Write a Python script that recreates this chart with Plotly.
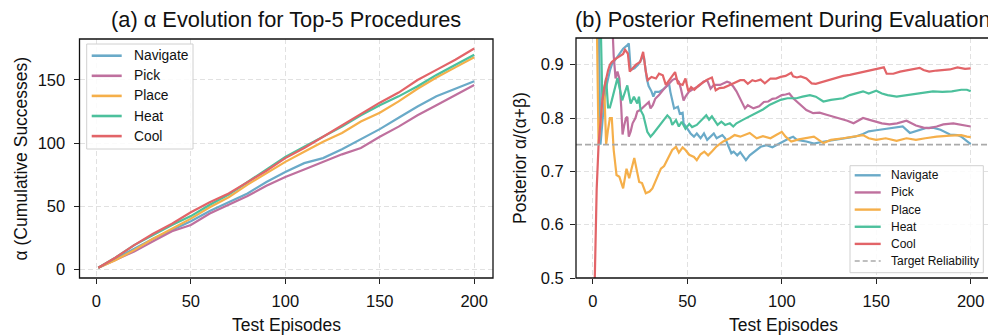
import plotly.graph_objects as go

# ---------------- data ----------------
names = ["Navigate", "Pick", "Place", "Heat", "Cool"]
colors = ["#6AAAC8", "#BF709E", "#F5AF4A", "#4CC09C", "#E26468"]

# panel (a): alpha (cumulative successes)
left_ep = [1, 10, 20, 30, 40, 50, 60, 70, 80, 90, 100, 110, 120, 130, 140, 150, 160, 170, 180, 190, 200]
nav_alpha = [1, 8, 16, 24, 31, 38, 46, 53, 60, 69, 77, 84, 88, 95, 103, 111, 120, 129, 137, 143, 149]
pick_alpha = [1, 7, 14, 22, 30, 35, 44, 51, 58, 66, 73, 79, 85, 91, 96, 105, 113, 122, 130, 138, 146]
place_alpha = [1, 7, 15, 24, 32, 40, 49, 57, 67, 76, 85, 93, 101, 108, 117, 124, 133, 143, 152, 160, 168]
heat_alpha = [1, 9, 19, 27, 35, 42, 51, 59, 69, 79, 89, 97, 105, 113, 122, 130, 137, 145, 154, 162, 170]
cool_alpha = [1, 9, 19, 28, 36, 45, 53, 60, 69, 78, 88, 96, 105, 114, 123, 132, 140, 150, 158, 166, 175]

# panel (b): posterior mean alpha/(alpha+beta)
nav_x = [1, 3, 4, 5, 6, 7, 8, 9, 10, 12, 14, 16, 18.4, 19, 20, 22, 24, 26, 27, 28.5, 29.5, 31, 32, 33, 35, 37,
         39.4, 40.3, 41, 42, 43, 45, 46, 47.5, 48, 50, 51.7, 53.5, 55, 57, 58.8, 60.5, 62, 64, 65.5, 68.5, 70,
         71.5, 73.3, 74.5, 76.4, 78, 79.6, 81, 83, 85, 88.8, 92, 95, 97, 99.4, 102, 104, 106, 108, 113, 117, 121,
         125, 129, 134, 138.7, 143, 146, 150, 155.5, 160, 164, 167.8, 172, 176, 180, 184, 189, 193, 195, 197, 200]
nav_post = [1.0, 1.0, 0.75, 0.8, 0.833, 0.857, 0.875, 0.889, 0.9, 0.91, 0.92, 0.93, 0.937, 0.94, 0.89, 0.893,
            0.9, 0.912, 0.915, 0.874, 0.86, 0.85, 0.84, 0.849, 0.849, 0.853, 0.861, 0.865, 0.849, 0.833, 0.818,
            0.821, 0.808, 0.81, 0.79, 0.78, 0.771, 0.765, 0.771, 0.762, 0.771, 0.759, 0.765, 0.771, 0.762, 0.768,
            0.762, 0.75, 0.734, 0.737, 0.73, 0.736, 0.727, 0.721, 0.73, 0.736, 0.746, 0.749, 0.745, 0.749, 0.754,
            0.759, 0.762, 0.765, 0.759, 0.756, 0.752, 0.755, 0.757, 0.759, 0.762, 0.765, 0.77, 0.775, 0.777, 0.78,
            0.782, 0.784, 0.772, 0.777, 0.781, 0.782, 0.778, 0.769, 0.768, 0.765, 0.76, 0.751]

pick_x = [1, 10, 11, 12, 13, 14, 15, 15.7, 16.5, 17.5, 18.2, 19, 20, 21, 22.5, 23.5, 25, 26.6, 28, 29.6, 30.5,
          31.7, 33, 35, 37, 38.5, 40, 42, 43.7, 45.5, 46.5, 48, 49, 50.8, 53.5, 56, 58.5, 60.5, 62.3, 64, 67.3,
          71, 72.5, 74.3, 76, 77, 78.7, 80.5, 82, 85, 88, 90.5, 92.8, 95, 97, 100, 102, 104, 106, 108.7, 111,
          113, 116.6, 120, 123.7, 127.6, 130.8, 134.7, 138, 140, 143, 146, 150, 153, 157, 161, 166, 171, 175,
          178, 182, 185.5, 190.8, 194, 198, 200]
pick_post = [1.0, 1.0, 0.917, 0.874, 0.887, 0.874, 0.82, 0.769, 0.785, 0.8, 0.802, 0.765, 0.775, 0.79, 0.8,
             0.812, 0.815, 0.82, 0.825, 0.83, 0.818, 0.824, 0.836, 0.843, 0.852, 0.858, 0.865, 0.871, 0.874,
             0.868, 0.856, 0.833, 0.84, 0.849, 0.855, 0.86, 0.868, 0.871, 0.855, 0.862, 0.862, 0.868, 0.866,
             0.859, 0.85, 0.843, 0.828, 0.818, 0.824, 0.818, 0.822, 0.83, 0.831, 0.836, 0.837, 0.843, 0.844,
             0.846, 0.837, 0.828, 0.82, 0.815, 0.809, 0.81, 0.806, 0.802, 0.8, 0.795, 0.79, 0.794, 0.8, 0.797,
             0.793, 0.79, 0.788, 0.79, 0.795, 0.786, 0.782, 0.781, 0.784, 0.788, 0.79, 0.788, 0.786, 0.784]

place_x = [1, 2, 3, 4, 5, 6, 7, 8, 9, 10, 11, 12.5, 14, 16, 17.8, 19.2, 21.9, 24.5, 26, 28, 30, 31.5, 33, 36,
           37.7, 40.4, 42, 44, 45.5, 47.5, 49, 51, 53.5, 55, 57, 59, 61, 63, 65.5, 69, 72.5, 75, 78, 83, 86.7,
           90, 94, 97, 100, 102, 105, 109, 113, 117, 122, 126, 132.5, 138, 143, 146, 150, 155, 160.8, 166, 171,
           176, 182, 189, 195, 198, 200]
place_post = [1.0, 1.0, 0.75, 0.8, 0.833, 0.857, 0.75, 0.778, 0.8, 0.8, 0.74, 0.693, 0.69, 0.668, 0.705, 0.687,
              0.725, 0.68, 0.678, 0.659, 0.662, 0.668, 0.68, 0.705, 0.71, 0.728, 0.74, 0.746, 0.735, 0.745, 0.74,
              0.731, 0.727, 0.721, 0.732, 0.737, 0.73, 0.737, 0.747, 0.756, 0.762, 0.768, 0.765, 0.772, 0.762,
              0.766, 0.762, 0.768, 0.774, 0.765, 0.756, 0.76, 0.762, 0.765, 0.753, 0.759, 0.762, 0.765, 0.768,
              0.762, 0.759, 0.762, 0.757, 0.762, 0.759, 0.762, 0.765, 0.767, 0.768, 0.765, 0.764]

heat_x = [1, 4, 5, 6, 7, 8, 9, 10, 11, 12, 13, 14.5, 15.5, 17.3, 18.2, 20, 21.7, 23.5, 24.4, 25.2, 26.7, 28.8,
          30.5, 32, 34, 37.6, 39.4, 41, 42, 44, 45.5, 47, 49, 51, 52.5, 55, 58, 60, 61.5, 63, 66, 68, 70, 72.5,
          74.3, 76, 79.6, 83, 86.7, 90, 93.7, 97, 99.4, 103, 107.8, 111, 114.9, 118, 122, 126, 132.5, 136,
          138.7, 143, 146, 150, 153, 156, 160.8, 166, 171, 176, 180, 185, 190, 195, 198, 200]
heat_post = [1.0, 1.0, 0.833, 0.857, 0.875, 0.82, 0.82, 0.833, 0.846, 0.857, 0.875, 0.85, 0.833, 0.852, 0.861,
             0.827, 0.84, 0.827, 0.84, 0.815, 0.805, 0.774, 0.765, 0.771, 0.78, 0.796, 0.805, 0.799, 0.787,
             0.796, 0.784, 0.793, 0.78, 0.789, 0.783, 0.787, 0.799, 0.805, 0.797, 0.803, 0.787, 0.793, 0.787,
             0.79, 0.784, 0.79, 0.797, 0.803, 0.809, 0.816, 0.825, 0.83, 0.834, 0.837, 0.837, 0.84, 0.843, 0.84,
             0.831, 0.834, 0.837, 0.843, 0.846, 0.85, 0.846, 0.851, 0.846, 0.843, 0.84, 0.843, 0.846, 0.848,
             0.85, 0.849, 0.85, 0.853, 0.853, 0.85]

cool_x = [1, 2, 3, 4, 5, 6, 7, 8, 9, 10, 12, 14, 16, 17, 18.5, 19.5, 21, 22.8, 25, 26.6, 28, 29, 31, 33.4, 35,
          37, 38.6, 40.5, 43.5, 45, 47.5, 49, 50.5, 52, 53.7, 56, 58, 60.5, 63, 65, 67, 69.4, 72.5, 75, 78, 80,
          82, 84.4, 86, 88.8, 91, 94, 97, 99.4, 102, 105, 106, 108, 110, 113, 115.8, 118, 120, 123.7, 128,
          132.5, 136, 140, 145, 150, 154, 155.5, 159, 162.6, 167, 173, 175, 178, 182, 186, 189, 193, 195, 197,
          200]
cool_post = [0.5, 0.667, 0.75, 0.8, 0.833, 0.857, 0.875, 0.889, 0.9, 0.905, 0.911, 0.915, 0.92, 0.928, 0.921,
             0.887, 0.893, 0.9, 0.905, 0.924, 0.887, 0.871, 0.877, 0.874, 0.883, 0.88, 0.862, 0.872, 0.886,
             0.865, 0.862, 0.874, 0.85, 0.858, 0.853, 0.861, 0.866, 0.872, 0.876, 0.852, 0.856, 0.857, 0.862,
             0.866, 0.871, 0.871, 0.864, 0.871, 0.869, 0.872, 0.865, 0.874, 0.874, 0.877, 0.879, 0.885, 0.878,
             0.876, 0.878, 0.874, 0.865, 0.864, 0.866, 0.871, 0.875, 0.879, 0.881, 0.884, 0.887, 0.891, 0.895,
             0.883, 0.883, 0.887, 0.89, 0.894, 0.89, 0.887, 0.889, 0.89, 0.891, 0.895, 0.894, 0.892, 0.893]

target_reliability = 0.75
x_ticks = [0, 50, 100, 150, 200]
left_y_ticks = [0, 50, 100, 150]
right_y_ticks = [0.5, 0.6, 0.7, 0.8, 0.9]

left_series = [nav_alpha, pick_alpha, place_alpha, heat_alpha, cool_alpha]
right_series = [(nav_x, nav_post), (pick_x, pick_post), (place_x, place_post),
                (heat_x, heat_post), (cool_x, cool_post)]

# ---------------- layout helpers ----------------
W, H = 988, 335
FONT = "Liberation Sans, Arial, Helvetica, sans-serif"


def PX(x):
    return x / W


def PY(y):
    return 1 - y / H


fig = go.Figure()

for name, col, ys in zip(names, colors, left_series):
    fig.add_trace(go.Scatter(x=left_ep, y=ys, mode="lines", name=name, showlegend=False,
                             line=dict(color=col, width=2.2), xaxis="x", yaxis="y"))

for name, col, (xs, ys) in zip(names, colors, right_series):
    fig.add_trace(go.Scatter(x=xs, y=ys, mode="lines", name=name, showlegend=False,
                             line=dict(color=col, width=2.2), xaxis="x2", yaxis="y2"))

grid = dict(showgrid=True, gridcolor="rgba(200,200,200,0.55)", griddash="5px,3px", gridwidth=1,
            zeroline=False, showline=False, ticks="outside", ticklen=5, tickwidth=1.2,
            automargin=False, ticklabeloverflow="allow",
            tickcolor="#222", tickfont=dict(family=FONT, size=16.5, color="#111"))

L_Y0, L_Y1 = 278, 39
R_Y0, R_Y1 = 278, 38

fig.update_layout(
    template="none",
    width=W, height=H,
    margin=dict(l=0, r=0, t=0, b=0, pad=0, autoexpand=False),
    paper_bgcolor="white", plot_bgcolor="white",
    showlegend=False,
    xaxis=dict(domain=[PX(79.5), PX(493)], range=[-8.95, 209.95], tickvals=x_ticks,
               anchor="y", ticklabelstandoff=3, **grid),
    yaxis=dict(domain=[PY(L_Y0), PY(L_Y1)], range=[-7.1, 182.5], tickvals=left_y_ticks,
               anchor="x", ticklabelstandoff=5, **grid),
    xaxis2=dict(domain=[PX(576), 1.0], range=[-8.95, -8.95 + (988 - 576) / 1.889], tickvals=x_ticks,
                anchor="y2", ticklabelstandoff=3, **grid),
    yaxis2=dict(domain=[PY(R_Y0), PY(R_Y1)], range=[0.5, 0.95], tickvals=right_y_ticks,
                ticktext=[f"{v:.1f}" for v in right_y_ticks],
                anchor="x2", ticklabelstandoff=3, **grid),
)

shapes = []
# target reliability line
shapes.append(dict(type="line", xref="x2 domain", yref="y2", x0=0, x1=1,
                   y0=target_reliability, y1=target_reliability,
                   line=dict(color="#AAAAAA", width=1.6, dash="6px,3px"), layer="above"))
# axes frames
shapes.append(dict(type="rect", xref="paper", yref="paper", x0=PX(79.5), x1=PX(493),
                   y0=PY(L_Y0), y1=PY(L_Y1), line=dict(color="#111", width=1.3), layer="above"))
shapes.append(dict(type="rect", xref="paper", yref="paper", x0=PX(576), x1=PX(991),
                   y0=PY(R_Y0), y1=PY(R_Y1), line=dict(color="#111", width=1.3), layer="above"))

annotations = []


def text(x, y, s, size, xanchor="center", yanchor="middle", angle=0):
    annotations.append(dict(x=PX(x), y=PY(y), xref="paper", yref="paper", text=s, showarrow=False,
                            xanchor=xanchor, yanchor=yanchor, textangle=angle,
                            font=dict(family=FONT, size=size, color="#111")))


# legend (a)
shapes.append(dict(type="rect", xref="paper", yref="paper", x0=PX(86.7), x1=PX(193), y0=PY(149), y1=PY(44),
                   line=dict(color="#D0D0D0", width=1), fillcolor="rgba(255,255,255,0.85)", layer="above"))
for i, (name, col) in enumerate(zip(names, colors)):
    yy = 55.7 + 20.1 * i
    shapes.append(dict(type="line", xref="paper", yref="paper", x0=PX(91.7), x1=PX(121.7), y0=PY(yy), y1=PY(yy),
                       line=dict(color=col, width=2.6), layer="above"))
    text(131.5, yy, name, 13.8, xanchor="left")

# legend (b)
shapes.append(dict(type="rect", xref="paper", yref="paper", x0=PX(850), x1=PX(983.3), y0=PY(272.7), y1=PY(165.7),
                   line=dict(color="#D0D0D0", width=1), fillcolor="rgba(255,255,255,0.85)", layer="above"))
leg_b = names + ["Target Reliability"]
leg_c = colors + ["#AAAAAA"]
for i, (name, col) in enumerate(zip(leg_b, leg_c)):
    yy = 175.3 + 17.15 * i
    dash = "solid" if i < 5 else "5px,3px"
    w = 2.4 if i < 5 else 1.6
    shapes.append(dict(type="line", xref="paper", yref="paper", x0=PX(854.7), x1=PX(880.7), y0=PY(yy), y1=PY(yy),
                       line=dict(color=col, width=w, dash=dash), layer="above"))
    text(889, yy, name, 12, xanchor="left")

# titles and axis titles
text(286.3, 19.5, "(a) α Evolution for Top-5 Procedures", 21.8)
text(782.8, 19.5, "(b) Posterior Refinement During Evaluation", 21.8)
text(286.3, 325, "Test Episodes", 17.5)
text(783, 325, "Test Episodes", 17.5)
text(20, 158.5, "α (Cumulative Successes)", 17.5, angle=-90)
text(520, 158, "Posterior α/(α+β)", 17.5, angle=-90)

fig.update_layout(shapes=shapes, annotations=annotations)

fig.write_html(
    "out.html",
    config={"displayModeBar": False},
    post_script="document.body.style.margin='0px';document.body.style.overflow='hidden';",
)
